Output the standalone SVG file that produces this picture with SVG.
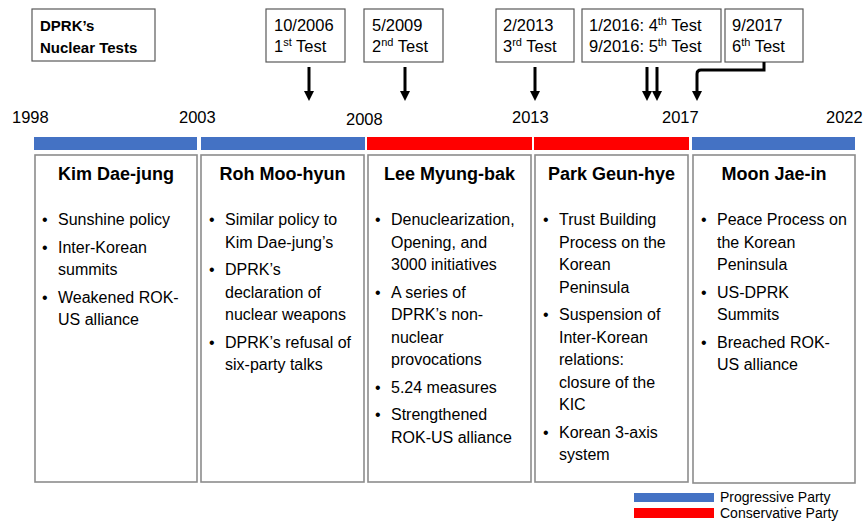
<svg xmlns="http://www.w3.org/2000/svg" width="865" height="523" viewBox="0 0 865 523">
<style>
text{font-family:"Liberation Sans",Arial,sans-serif;fill:#000}
.tb{fill:#fff;stroke:#595959;stroke-width:1.2}
.tt{font-size:16.5px}
.yr{font-size:16.5px}
.hd{font-size:18px;font-weight:bold;text-anchor:middle}
.bx{fill:#fff;stroke:#8c8c8c;stroke-width:1.6}
.li{font-size:16px}
.blue{fill:#4472C4}
.red{fill:#FF0000}
.ar{stroke:#000;stroke-width:3;fill:none}
.lg{font-size:14px}
</style>
<defs>
<marker id="ah" markerWidth="10" markerHeight="10" refX="0" refY="5" orient="auto" markerUnits="userSpaceOnUse" viewBox="0 0 10 10"><path d="M0,0 L10,5 L0,10 z" fill="#000"/></marker>
</defs>
<rect width="865" height="523" fill="#fff"/>

<g id="title">
<rect class="tb" x="32" y="9" width="123" height="52"/>
<text x="40" y="31" font-size="15" font-weight="bold">DPRK’s</text>
<text x="40" y="53" font-size="15" font-weight="bold">Nuclear Tests</text>
</g>

<g id="test1">
<rect class="tb" x="266" y="9" width="79" height="53"/>
<text class="tt" x="274" y="31">10/2006</text>
<text class="tt" x="274" y="52">1<tspan font-size="11" dy="-6">st</tspan><tspan dy="6"> Test</tspan></text>
</g>
<g id="test2">
<rect class="tb" x="364" y="9" width="79" height="53"/>
<text class="tt" x="372" y="31">5/2009</text>
<text class="tt" x="372" y="52">2<tspan font-size="11" dy="-6">nd</tspan><tspan dy="6"> Test</tspan></text>
</g>
<g id="test3">
<rect class="tb" x="496" y="9" width="78" height="53"/>
<text class="tt" x="503" y="31">2/2013</text>
<text class="tt" x="503" y="52">3<tspan font-size="11" dy="-6">rd</tspan><tspan dy="6"> Test</tspan></text>
</g>
<g id="test45">
<rect class="tb" x="582" y="9" width="139" height="53"/>
<text class="tt" x="589" y="31">1/2016: 4<tspan font-size="11" dy="-6">th</tspan><tspan dy="6"> Test</tspan></text>
<text class="tt" x="589" y="52">9/2016: 5<tspan font-size="11" dy="-6">th</tspan><tspan dy="6"> Test</tspan></text>
</g>
<g id="test6">
<rect class="tb" x="725" y="9" width="78" height="53"/>
<text class="tt" x="732" y="31">9/2017</text>
<text class="tt" x="732" y="52">6<tspan font-size="11" dy="-6">th</tspan><tspan dy="6"> Test</tspan></text>
</g>

<g id="connectors">
<line class="ar" x1="309" y1="67" x2="309" y2="91" marker-end="url(#ah)"/>
<line class="ar" x1="405" y1="67" x2="405" y2="91" marker-end="url(#ah)"/>
<line class="ar" x1="535" y1="67" x2="535" y2="91" marker-end="url(#ah)"/>
<line class="ar" x1="647" y1="67" x2="647" y2="91" marker-end="url(#ah)"/>
<line class="ar" x1="657" y1="67" x2="657" y2="91" marker-end="url(#ah)"/>
<path class="ar" d="M764,62 V70 H701 Q697,70 697,74 V91" marker-end="url(#ah)"/>
</g>

<g id="years">
<text class="yr" x="12" y="123">1998</text>
<text class="yr" x="179" y="123">2003</text>
<text class="yr" x="346" y="125">2008</text>
<text class="yr" x="512" y="123">2013</text>
<text class="yr" x="662" y="123">2017</text>
<text class="yr" x="826" y="123">2022</text>
</g>

<g id="bars">
<rect class="blue" x="34" y="137" width="163" height="13"/>
<rect class="blue" x="201" y="137" width="164" height="13"/>
<rect class="red" x="367" y="137" width="165" height="13"/>
<rect class="red" x="534" y="137" width="155" height="13"/>
<rect class="blue" x="692" y="137" width="163" height="13"/>
</g>

<g id="kim">
<rect class="bx" x="35" y="155" width="162" height="327"/>
<text class="hd" x="116" y="180">Kim Dae-jung</text>
<text class="li"><tspan x="42" y="225">•</tspan><tspan x="58" y="225">Sunshine policy</tspan>
<tspan x="42" y="252.5">•</tspan><tspan x="58" y="252.5">Inter-Korean</tspan><tspan x="58" y="275">summits</tspan>
<tspan x="42" y="302.5">•</tspan><tspan x="58" y="302.5">Weakened ROK-</tspan><tspan x="58" y="325">US alliance</tspan></text>
</g>

<g id="roh">
<rect class="bx" x="201" y="155" width="163" height="327"/>
<text class="hd" x="282.5" y="180">Roh Moo-hyun</text>
<text class="li"><tspan x="209" y="225">•</tspan><tspan x="225" y="225">Similar policy to</tspan><tspan x="225" y="247.5">Kim Dae-jung’s</tspan>
<tspan x="209" y="275">•</tspan><tspan x="225" y="275">DPRK’s</tspan><tspan x="225" y="297.5">declaration of</tspan><tspan x="225" y="320">nuclear weapons</tspan>
<tspan x="209" y="347.5">•</tspan><tspan x="225" y="347.5">DPRK’s refusal of</tspan><tspan x="225" y="370">six-party talks</tspan></text>
</g>

<g id="lee">
<rect class="bx" x="368" y="155" width="163" height="327"/>
<text class="hd" x="449.5" y="180">Lee Myung-bak</text>
<text class="li"><tspan x="375" y="225">•</tspan><tspan x="391" y="225">Denuclearization,</tspan><tspan x="391" y="247.5">Opening, and</tspan><tspan x="391" y="270">3000 initiatives</tspan>
<tspan x="375" y="297.5">•</tspan><tspan x="391" y="297.5">A series of</tspan><tspan x="391" y="320">DPRK’s non-</tspan><tspan x="391" y="342.5">nuclear</tspan><tspan x="391" y="365">provocations</tspan>
<tspan x="375" y="392.5">•</tspan><tspan x="391" y="392.5">5.24 measures</tspan>
<tspan x="375" y="420">•</tspan><tspan x="391" y="420">Strengthened</tspan><tspan x="391" y="442.5">ROK-US alliance</tspan></text>
</g>

<g id="park">
<rect class="bx" x="535" y="155" width="153" height="327"/>
<text class="hd" x="611.5" y="180">Park Geun-hye</text>
<text class="li"><tspan x="543" y="225">•</tspan><tspan x="559" y="225">Trust Building</tspan><tspan x="559" y="247.5">Process on the</tspan><tspan x="559" y="270">Korean</tspan><tspan x="559" y="292.5">Peninsula</tspan>
<tspan x="543" y="320">•</tspan><tspan x="559" y="320">Suspension of</tspan><tspan x="559" y="342.5">Inter-Korean</tspan><tspan x="559" y="365">relations:</tspan><tspan x="559" y="387.5">closure of the</tspan><tspan x="559" y="410">KIC</tspan>
<tspan x="543" y="437.5">•</tspan><tspan x="559" y="437.5">Korean 3-axis</tspan><tspan x="559" y="460">system</tspan></text>
</g>

<g id="moon">
<rect class="bx" x="693" y="155" width="162" height="328"/>
<text class="hd" x="774" y="180">Moon Jae-in</text>
<text class="li"><tspan x="701" y="225">•</tspan><tspan x="717" y="225">Peace Process on</tspan><tspan x="717" y="247.5">the Korean</tspan><tspan x="717" y="270">Peninsula</tspan>
<tspan x="701" y="297.5">•</tspan><tspan x="717" y="297.5">US-DPRK</tspan><tspan x="717" y="320">Summits</tspan>
<tspan x="701" y="347.5">•</tspan><tspan x="717" y="347.5">Breached ROK-</tspan><tspan x="717" y="370">US alliance</tspan></text>
</g>

<g id="legend">
<rect class="blue" x="634" y="493" width="80" height="9"/>
<rect class="red" x="634" y="508" width="80" height="10"/>
<text class="lg" x="720" y="502">Progressive Party</text>
<text class="lg" x="720" y="518">Conservative Party</text>
</g>
</svg>
